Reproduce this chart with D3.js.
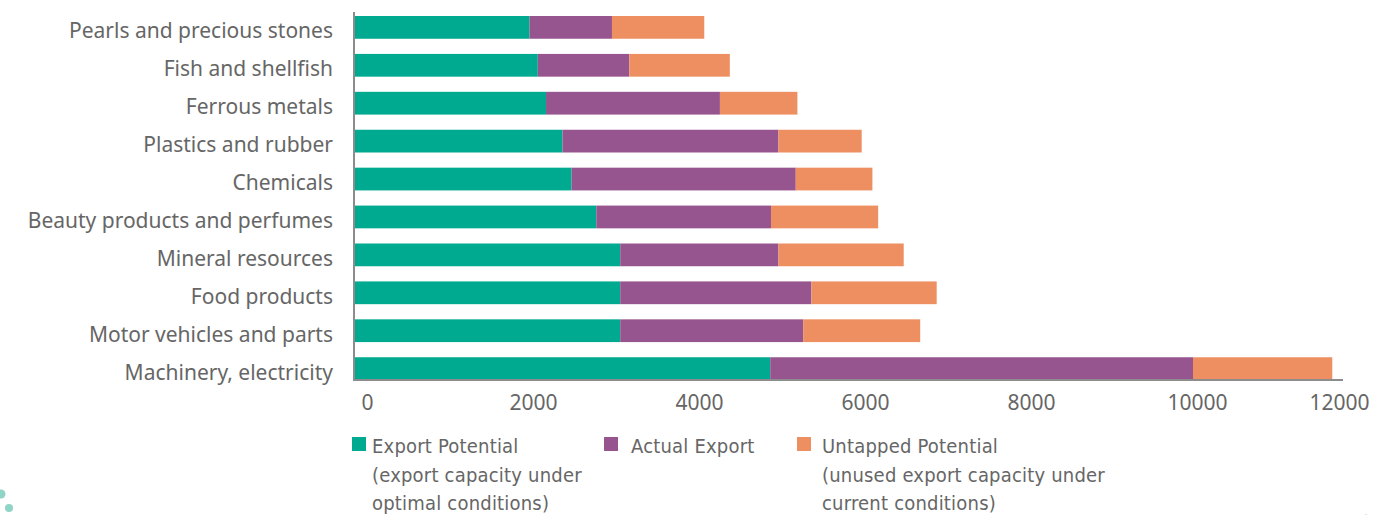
<!DOCTYPE html>
<html>
<head>
<meta charset="utf-8">
<script src="https://cdn.jsdelivr.net/npm/d3@7"></script>
<style>
  html, body { margin: 0; padding: 0; background: #fff; }
  svg { display: block; }
</style>
</head>
<body>
<div id="chart"></div>
<script>
// categories, top to bottom
var categories = [
  "Pearls and precious stones",
  "Fish and shellfish",
  "Ferrous metals",
  "Plastics and rubber",
  "Chemicals",
  "Beauty products and perfumes",
  "Mineral resources",
  "Food products",
  "Motor vehicles and parts",
  "Machinery, electricity"
];

// stacked segments
var exportPotential = [2130, 2230, 2330, 2530, 2640, 2940, 3230, 3230, 3230, 5050];
var actualExport    = [1000, 1110, 2110, 2620, 2720, 2120, 1920, 2320, 2220, 5130];
var untapped        = [1120, 1220,  940, 1010,  930, 1300, 1520, 1520, 1420, 1690];

var tickValues = [0, 2000, 4000, 6000, 8000, 10000, 12000];

var seriesNames = ["Export Potential", "Actual Export", "Untapped Potential"];
var seriesColors = ["#00aa90", "#975590", "#ee8f62"];
var legendLines = [
  ["Export Potential", "(export capacity under", "optimal conditions)"],
  ["Actual Export"],
  ["Untapped Potential", "(unused export capacity under", "current conditions)"]
];

var W = 1373, H = 515;
var labelFont = "'Noto Sans', 'Open Sans', sans-serif";
var legendFont = "'Liberation Sans Narrow', 'DejaVu Sans Condensed', sans-serif";
var textColor = "#666";

var svg = d3.select("#chart").append("svg")
  .attr("width", W)
  .attr("height", H);

var x = d3.scaleLinear().domain([0, 12000]).range([354, 1343]);
// tick labels in the picture sit on a slightly wider spacing than the bars
var xLab = d3.scaleLinear().domain([0, 12000]).range([367, 1363]);

var y = d3.scaleBand()
  .domain(categories)
  .range([16, 380])
  .paddingInner(0.4)
  .paddingOuter(0);

var rows = categories.map(function(c, i) {
  return { cat: c, v: [exportPotential[i], actualExport[i], untapped[i]] };
});
var stack = d3.stack().keys([0, 1, 2]).value(function(d, k) { return d.v[k]; });
var layers = stack(rows);

svg.append("g")
  .selectAll("g")
  .data(layers)
  .enter().append("g")
  .attr("fill", function(d, i) { return seriesColors[i]; })
  .selectAll("rect")
  .data(function(d) { return d; })
  .enter().append("rect")
  .attr("x", function(d) { return x(d[0]); })
  .attr("width", function(d) { return x(d[1]) - x(d[0]); })
  .attr("y", function(d) { return y(d.data.cat); })
  .attr("height", y.bandwidth());

// axis lines
svg.append("line")
  .attr("x1", x(0)).attr("x2", x(0))
  .attr("y1", 12).attr("y2", 381)
  .attr("stroke", "#8c8c8c").attr("stroke-width", 2);
svg.append("line")
  .attr("x1", x(0) - 1).attr("x2", x(12000))
  .attr("y1", 380).attr("y2", 380)
  .attr("stroke", "#8c8c8c").attr("stroke-width", 2);

// category labels
svg.append("g")
  .selectAll("text")
  .data(categories)
  .enter().append("text")
  .attr("x", 333)
  .attr("y", function(d) { return y(d) + y.bandwidth() / 2 + 11; })
  .attr("text-anchor", "end")
  .style("font-family", labelFont)
  .style("font-size", "21px")
  .style("fill", textColor)
  .text(function(d) { return d; });

// x tick labels
var xAxis = d3.axisBottom(xLab)
  .tickValues(tickValues)
  .tickSize(0)
  .tickFormat(d3.format("d"));
var gx = svg.append("g")
  .attr("transform", "translate(0,395)")
  .call(xAxis);
gx.select(".domain").remove();
// the last label is pulled back inside the frame, as in the picture
gx.selectAll("text")
  .attr("dy", "0.71em")
  .attr("y", 0)
  .style("font-family", labelFont)
  .style("font-size", "21px")
  .style("fill", textColor)
  .attr("text-anchor", function(d) { return d === 12000 ? "end" : "middle"; })
  .attr("x", function(d) { return d === 12000 ? 1369 - xLab(d) : 0; });

// legend
var legendX = [352, 604, 797];
var legendTextX = [372, 631, 822];
var leg = svg.append("g")
  .selectAll("g")
  .data(seriesNames)
  .enter().append("g");
leg.append("rect")
  .attr("x", function(d, i) { return legendX[i]; })
  .attr("y", 437)
  .attr("width", 14)
  .attr("height", 14)
  .attr("fill", function(d, i) { return seriesColors[i]; });
leg.each(function(d, i) {
  var t = d3.select(this).append("text")
    .style("font-family", legendFont)
    .style("font-size", "20px")
    .style("letter-spacing", "0.2px")
    .style("fill", textColor);
  legendLines[i].forEach(function(line, j) {
    t.append("tspan")
      .attr("x", legendTextX[i])
      .attr("y", 453 + j * 28.5)
      .text(line);
  });
});

// decorative dots
var dots = [[1, 494, 4.5], [9, 508, 4], [1366, 517, 2.5]];
svg.append("g")
  .selectAll("circle")
  .data(dots)
  .enter().append("circle")
  .attr("cx", function(d) { return d[0]; })
  .attr("cy", function(d) { return d[1]; })
  .attr("r", function(d) { return d[2]; })
  .attr("fill", "#8fd4c6");
</script>
</body>
</html>
